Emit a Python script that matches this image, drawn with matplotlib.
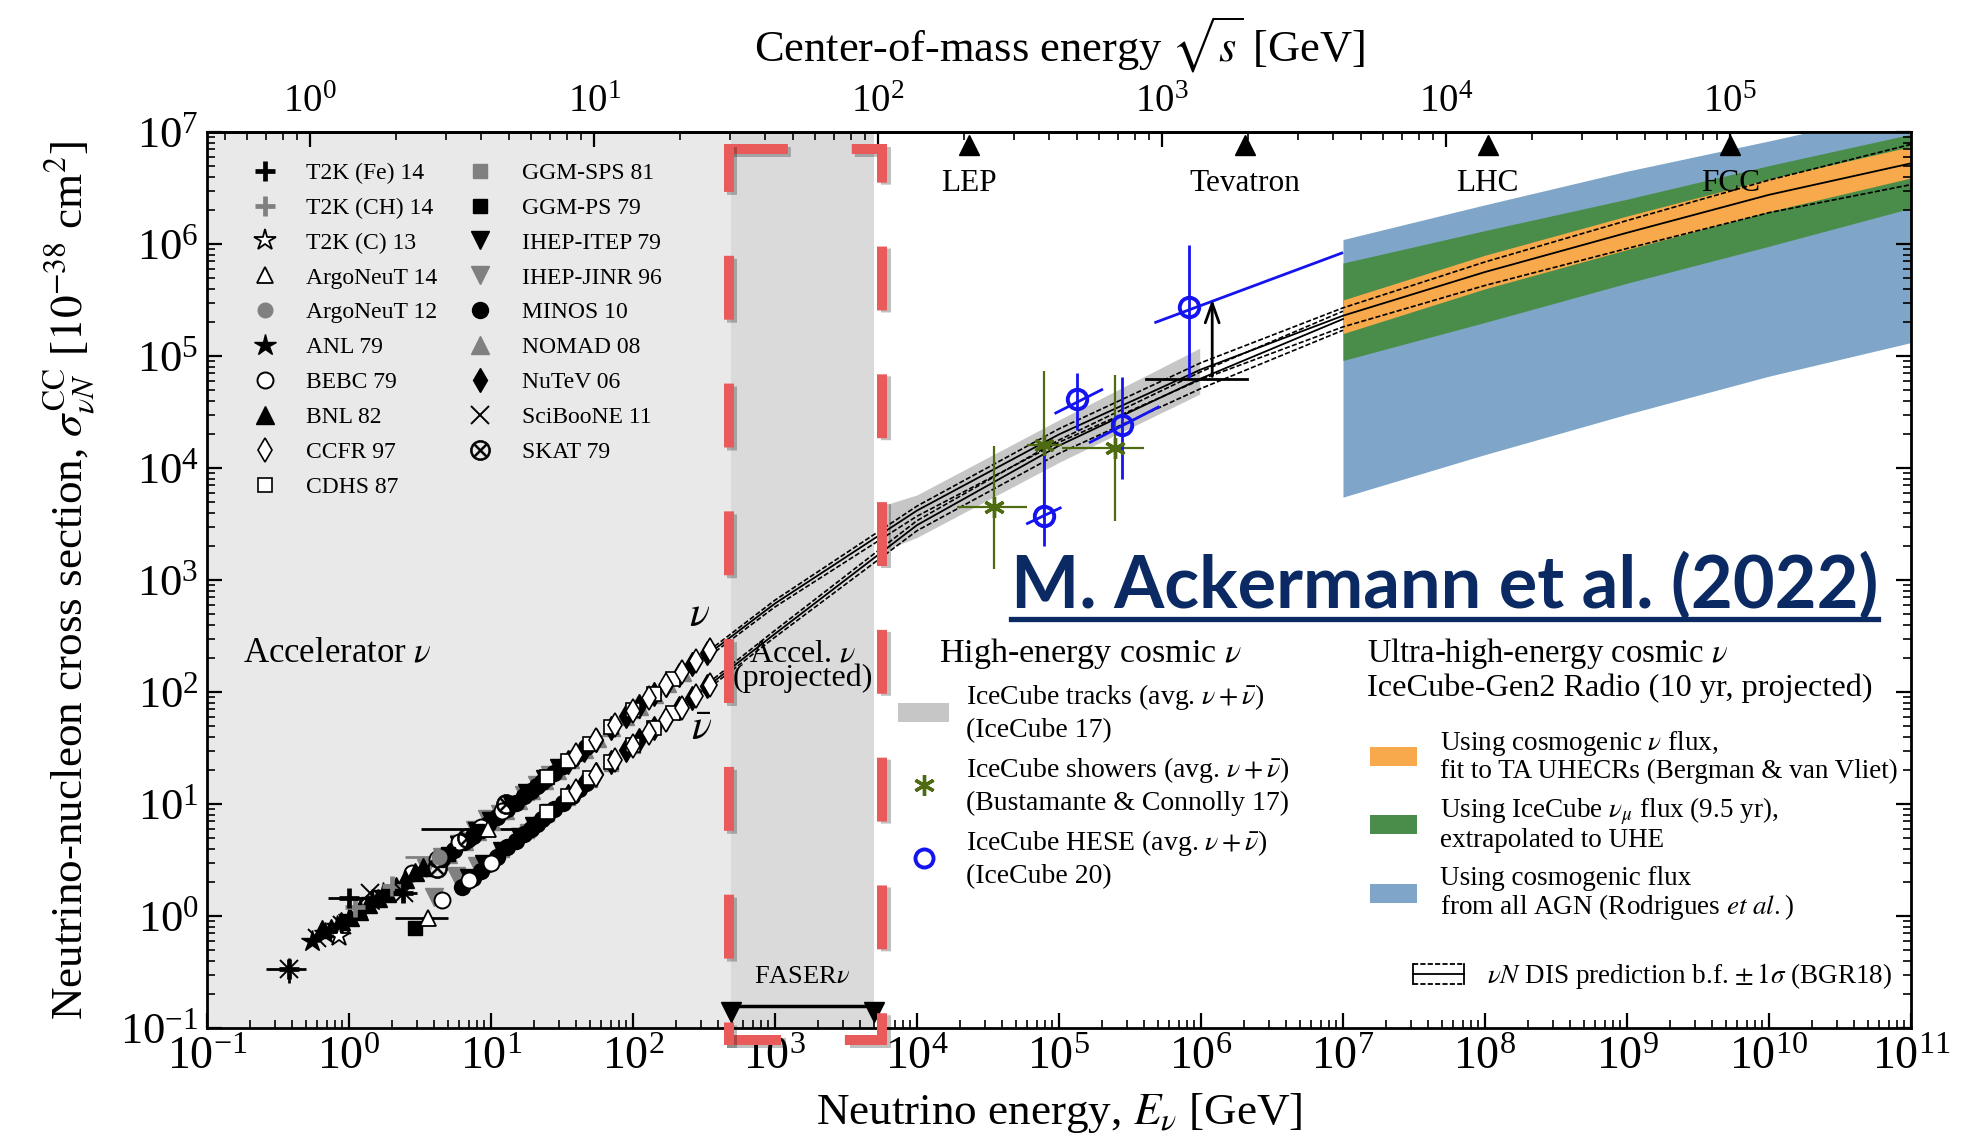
import numpy as np
import matplotlib
matplotlib.use("Agg")
import matplotlib.pyplot as plt
from matplotlib.lines import Line2D
from matplotlib.patches import Patch
from matplotlib.legend_handler import HandlerBase
from matplotlib.ticker import LogLocator, NullFormatter
import matplotlib.patheffects as pe

plt.rcParams.update({
    "font.family": ["Liberation Serif", "DejaVu Serif"],
    "mathtext.fontset": "stix",
    "lines.scale_dashes": False,
    "axes.linewidth": 2.0,
})

M_N = 0.938  # nucleon mass [GeV]

# ---------------- accelerator measurements (E [GeV], sigma [1e-38 cm^2]) -------------
anl79_E = [0.55, 0.68, 0.82, 1.0, 1.2, 1.45, 1.75]
anl79_s = [0.60, 0.70, 0.82, 0.98, 1.15, 1.38, 1.62]

bnl82_E = [0.65, 0.75, 0.88, 1.02, 1.18, 1.37, 1.6, 1.85, 2.15, 2.5, 2.9, 3.3]
bnl82_s = [0.76, 0.78, 0.90, 0.98, 1.10, 1.28, 1.45, 1.62, 1.85, 2.15, 2.45, 2.75]

t2kc13_E = [0.85]
t2kc13_s = [0.66]

t2kfe14_E = [0.38, 1.0, 2.4]
t2kfe14_s = [0.34, 1.44, 1.62]
t2kfe14_Elo = [0.26, 0.71, 1.9]
t2kfe14_Ehi = [0.50, 1.45, 3.0]
t2kfe14_slo = [0.25, 1.25, 1.45]
t2kfe14_shi = [0.42, 1.65, 1.80]

t2kch14_E = [1.1, 2.0]
t2kch14_s = [1.20, 1.85]

sciboone11_E = [0.38, 0.6, 0.9, 1.4, 2.45]
sciboone11_s = [0.34, 0.64, 0.83, 1.60, 1.62]

argoneut14_E = [3.6, 9.6]
argoneut14_s = [0.96, 6.0]
argoneut14_Elo = [2.1, 3.2]
argoneut14_Ehi = [5.0, 15.0]

argoneut12_E = [4.3]
argoneut12_s = [3.4]
argoneut12_Elo = [2.5]
argoneut12_Ehi = [4.6]

bebc79_E = [2.8, 4.2, 6.0, 8.5, 12.0, 4.5, 7.0, 10.0]
bebc79_s = [2.4, 3.2, 4.6, 6.3, 8.6, 1.4, 2.1, 3.0]

skat79_E = [4.2, 6.8, 12.7]
skat79_s = [2.7, 5.0, 10.0]

minos10_E = [4.5, 5.5, 6.5, 7.5, 8.5, 9.5, 11, 13, 15, 17, 19, 21, 23, 25, 28, 32, 37, 42, 47,
             6.3, 7.5, 8.5, 9.5, 11, 13, 15, 17, 19, 21, 23, 25, 28, 32, 37, 42, 47]
minos10_s = [3.2, 3.9, 4.6, 5.2, 5.9, 6.6, 7.6, 9.0, 10.3, 11.7, 13.0, 14.4, 15.8, 17.1, 19.1,
             21.8, 25.2, 28.6, 32.0,
             1.8, 2.2, 2.55, 2.9, 3.4, 4.1, 4.7, 5.4, 6.0, 6.7, 7.3, 8.0, 9.0, 10.3, 11.9, 13.6, 15.4]

ggmps79_E = [2.9, 5.0, 8.0]
ggmps79_s = [0.78, 3.6, 5.7]

ggmsps81_E = [12, 18, 25, 35, 50, 70, 100, 12, 18, 25, 35, 50, 70, 100]
ggmsps81_s = [8.5, 12.6, 17.3, 24.2, 34.5, 48, 68, 3.9, 5.8, 8.1, 11.4, 16.4, 23, 33]

ihepitep79_E = [6, 8, 10, 14, 18, 24, 30, 7, 9, 12, 16, 20, 26]
ihepitep79_s = [4.3, 5.7, 7.1, 9.8, 12.6, 16.8, 21, 2.2, 2.9, 3.8, 5.1, 6.4, 8.4]

ihepjinr96_E = [3.5, 4.5, 6, 7.7, 9.4, 11.5, 14, 17, 21, 26, 4.0, 5.7, 8.0]
ihepjinr96_s = [2.7, 3.4, 4.4, 5.9, 7.4, 8.2, 9.9, 12, 14.8, 18.3, 1.48, 2.3, 2.8]

nomad08_E = [5, 6.5, 8, 10, 12.5, 15.5, 19, 23.5, 29, 36, 45, 56, 70, 88, 110, 140, 175, 220]
nomad08_s = [3.6, 4.7, 5.7, 7.1, 8.8, 10.9, 13.3, 16.4, 20.2, 25, 31.2, 38.7, 48.3, 60.5,
             75.5, 96, 120, 150]

nutev06_E = [35, 45, 55, 70, 90, 110, 140, 170, 210, 260, 330,
             35, 45, 55, 70, 90, 110, 140, 170, 210, 260, 330]
nutev06_s = [23.8, 30.6, 37.4, 47.6, 61.2, 74.8, 95.2, 115.6, 142.8, 176.8, 224.4,
             11.9, 15.3, 18.7, 23.8, 30.6, 37.4, 47.6, 57.8, 71.4, 88.4, 112.2]

ccfr97_E = [40, 55, 75, 100, 130, 170, 220, 280, 350, 40, 55, 75, 100, 130, 170, 220, 280, 350]
ccfr97_s = [27.2, 37.4, 51, 68, 88.4, 115.6, 149.6, 190.4, 238,
            13.2, 18.2, 24.8, 33, 42.9, 56.1, 72.6, 92.4, 115.5]

cdhs87_E = [25, 35, 50, 70, 100, 140, 190, 25, 35, 50, 70, 100, 140, 190]
cdhs87_s = [17.3, 24.2, 34.5, 48.3, 69, 96.6, 131, 8.5, 11.9, 17, 23.8, 34, 47.6, 64.6]

# ---------------- BGR18 DIS prediction -------------
dis_E = [1e2, 1e3, 1e4, 1e5, 1e6, 1e7, 1e8, 1e9, 1e10, 1e11]
nu_bf = [67.6, 617, 4169, 19953, 75858, 229087, 562341, 1.26e6, 2.75e6, 5.25e6]
nu_up = [70.8, 661, 4571, 22387, 87096, 269153, 691831, 1.62e6, 3.72e6, 7.76e6]
nu_lo = [64.6, 575, 3715, 16982, 61660, 181970, 426580, 912011, 1.905e6, 3.39e6]
nubar_E = [1e2, 1e3, 1e4, 1e5, 1e6, 1e7]
nubar_bf = [33.9, 331, 3090, 15849, 63096, 213796]
nubar_up = [35.5, 355, 3388, 17783, 72444, 251189]
nubar_lo = [32.4, 309, 2754, 13490, 51286, 169824]

# ---------------- high-energy cosmic neutrinos -------------
tracks_E = [6.3e3, 1e4, 1e5, 9.8e5]
tracks_lo = [1905, 2399, 11220, 45709]
tracks_hi = [4786, 5754, 26915, 117490]

showers_E = [3.5e4, 7.9e4, 2.5e5]
showers_s = [4.5e3, 1.6e4, 1.5e4]
showers_Elo = [1.9e4, 6.0e4, 1.05e5]
showers_Ehi = [6.0e4, 1.05e5, 4.0e5]
showers_slo = [1.26e3, 3.5e3, 3.4e3]
showers_shi = [1.58e4, 7.4e4, 6.8e4]

hese_E = [7.9e4, 1.35e5, 2.8e5, 8.2e5]
hese_s = [3.7e3, 4.1e4, 2.4e4, 2.75e5]
hese_slo = [2.0e3, 2.2e4, 8.0e3, 6.3e4]
hese_shi = [1.5e4, 7.1e4, 6.5e4, 9.8e5]
hese_Elo = [6.0e4, 9.5e4, 1.66e5, 4.8e5]
hese_Ehi = [1.02e5, 2.0e5, 5.0e5, 9.8e6]
hese_bar_lo = [3.2e3, 3.1e4, 1.7e4, 2.0e5]
hese_bar_hi = [4.4e3, 5.0e4, 3.5e4, 8.3e5]

limit_Elo, limit_Ehi = 4.1e5, 2.1e6
limit_E, limit_s, limit_tip = 1.2e6, 6.2e4, 3.4e5

# ---------------- IceCube-Gen2 Radio projections -------------
uhe_E = [1e7, 1e8, 1e9, 1e10, 1e11]
agn_lo = [5495, 13183, 30200, 66069, 131826]
agn_hi = [1.096e6, 2.239e6, 4.467e6, 8.318e6, 1.585e7]
icnumu_lo = [91201, 199526, 446684, 954993, 2.089e6]
icnumu_hi = [676083, 1.318e6, 2.512e6, 5.012e6, 9.55e6]
ta_lo = [158489, 398107, 891251, 1.95e6, 3.89e6]
ta_hi = [316228, 794328, 1.778e6, 3.802e6, 7.413e6]

# ---------------- colliders and FASERnu -------------
collider_names = ["LEP", "Tevatron", "LHC", "FCC"]
collider_sqrts = [209, 1960, 14000, 100000]
faser_range = [490, 5000]

C_ORANGE = "#f8a94b"
C_GREEN = "#4a8d4a"
C_BLUE = "#7fa6c8"
C_OLIVE = "#4f6b12"
C_HESE = "#1414f0"
C_GRAY = "#808080"


def e_to_sqrts(E):
    return np.sqrt(2.0 * M_N * np.clip(E, 1e-30, None))


def sqrts_to_e(s):
    return np.asarray(s) ** 2 / (2.0 * M_N)


fig = plt.figure(figsize=(19.84, 11.40), dpi=100)
ax = fig.add_axes([0.1043, 0.0982, 0.8589, 0.7860])
ax.set_xscale("log")
ax.set_yscale("log")
ax.set_xlim(1e-1, 1e11)
ax.set_ylim(1e-1, 1e7)

# shaded energy regions
ax.axvspan(1e-1, faser_range[0], color="#e9e9e9", lw=0, zorder=0)
ax.axvspan(faser_range[0], faser_range[1], color="#dadada", lw=0, zorder=0)

# UHE projections
ax.fill_between(uhe_E, agn_lo, agn_hi, color=C_BLUE, lw=0, zorder=1)
ax.fill_between(uhe_E, icnumu_lo, icnumu_hi, color=C_GREEN, lw=0, zorder=1.1)
ax.fill_between(uhe_E, ta_lo, ta_hi, color=C_ORANGE, lw=0, zorder=1.2)

# IceCube tracks
ax.fill_between(tracks_E, tracks_lo, tracks_hi, color="#c6c6c6", lw=0, zorder=1)

# DIS prediction
ax.plot(dis_E, nu_bf, "-", color="k", lw=1.3, zorder=3)
ax.plot(dis_E, nu_up, "--", color="k", lw=1.2, zorder=3)
ax.plot(dis_E, nu_lo, "--", color="k", lw=1.2, zorder=3)
ax.plot(nubar_E, nubar_bf, "-", color="k", lw=1.3, zorder=3)
ax.plot(nubar_E, nubar_up, "--", color="k", lw=1.2, zorder=3)
ax.plot(nubar_E, nubar_lo, "--", color="k", lw=1.2, zorder=3)

# accelerator data
MS = 11.5
styles = {
    "T2K (Fe) 14": dict(marker="+", color="k", mec="k", ms=15, mew=3.4),
    "T2K (CH) 14": dict(marker="+", color=C_GRAY, mec=C_GRAY, ms=15, mew=3.4),
    "T2K (C) 13": dict(marker="*", color="k", mfc="white", mec="k", ms=16, mew=1.3),
    "ArgoNeuT 14": dict(marker="^", color="k", mfc="white", mec="k", ms=MS, mew=1.3),
    "ArgoNeuT 12": dict(marker="o", color=C_GRAY, mfc=C_GRAY, mec=C_GRAY, ms=MS - 1),
    "ANL 79": dict(marker="*", color="k", mfc="k", mec="k", ms=16),
    "BEBC 79": dict(marker="o", color="k", mfc="white", mec="k", ms=MS, mew=1.4),
    "BNL 82": dict(marker="^", color="k", mfc="k", mec="k", ms=MS + 1),
    "CCFR 97": dict(marker="d", color="k", mfc="white", mec="k", ms=MS + 1, mew=1.2),
    "CDHS 87": dict(marker="s", color="k", mfc="white", mec="k", ms=MS - 1, mew=1.2),
    "GGM-SPS 81": dict(marker="s", color=C_GRAY, mfc=C_GRAY, mec=C_GRAY, ms=MS - 1),
    "GGM-PS 79": dict(marker="s", color="k", mfc="k", mec="k", ms=MS - 1),
    "IHEP-ITEP 79": dict(marker="v", color="k", mfc="k", mec="k", ms=MS + 1),
    "IHEP-JINR 96": dict(marker="v", color=C_GRAY, mfc=C_GRAY, mec=C_GRAY, ms=MS + 1),
    "MINOS 10": dict(marker="o", color="k", mfc="k", mec="k", ms=MS),
    "NOMAD 08": dict(marker="^", color=C_GRAY, mfc=C_GRAY, mec=C_GRAY, ms=MS + 1),
    "NuTeV 06": dict(marker="d", color="k", mfc="k", mec="k", ms=MS + 1),
    "SciBooNE 11": dict(marker="x", color="k", mec="k", ms=MS + 1, mew=1.4),
    "SKAT 79": dict(marker="$\\otimes$", color="k", mec="k", mfc="k", ms=MS + 3, mew=0.5),
}
datasets = {
    "T2K (Fe) 14": (t2kfe14_E, t2kfe14_s),
    "T2K (CH) 14": (t2kch14_E, t2kch14_s),
    "T2K (C) 13": (t2kc13_E, t2kc13_s),
    "ArgoNeuT 14": (argoneut14_E, argoneut14_s),
    "ArgoNeuT 12": (argoneut12_E, argoneut12_s),
    "ANL 79": (anl79_E, anl79_s),
    "BEBC 79": (bebc79_E, bebc79_s),
    "BNL 82": (bnl82_E, bnl82_s),
    "CCFR 97": (ccfr97_E, ccfr97_s),
    "CDHS 87": (cdhs87_E, cdhs87_s),
    "GGM-SPS 81": (ggmsps81_E, ggmsps81_s),
    "GGM-PS 79": (ggmps79_E, ggmps79_s),
    "IHEP-ITEP 79": (ihepitep79_E, ihepitep79_s),
    "IHEP-JINR 96": (ihepjinr96_E, ihepjinr96_s),
    "MINOS 10": (minos10_E, minos10_s),
    "NOMAD 08": (nomad08_E, nomad08_s),
    "NuTeV 06": (nutev06_E, nutev06_s),
    "SciBooNE 11": (sciboone11_E, sciboone11_s),
    "SKAT 79": (skat79_E, skat79_s),
}
draw_order = ["GGM-SPS 81", "NOMAD 08", "IHEP-JINR 96", "IHEP-ITEP 79", "MINOS 10", "NuTeV 06",
              "CDHS 87", "CCFR 97", "BEBC 79", "SKAT 79", "GGM-PS 79", "ArgoNeuT 12",
              "ArgoNeuT 14", "BNL 82", "ANL 79", "T2K (C) 13", "T2K (CH) 14", "SciBooNE 11",
              "T2K (Fe) 14"]


def hbar(E, s, Elo, Ehi, color):
    """Horizontal (energy-bin) error bars."""
    E = np.asarray(E)
    s = np.asarray(s)
    ax.errorbar(E, s, xerr=[E - np.asarray(Elo), np.asarray(Ehi) - E], fmt="none",
                ecolor=color, elinewidth=2.0, capsize=0, zorder=4)


hbar(t2kfe14_E, t2kfe14_s, t2kfe14_Elo, t2kfe14_Ehi, "k")
ax.errorbar(t2kfe14_E, t2kfe14_s,
            yerr=[np.asarray(t2kfe14_s) - np.asarray(t2kfe14_slo),
                  np.asarray(t2kfe14_shi) - np.asarray(t2kfe14_s)],
            fmt="none", ecolor="k", elinewidth=2.0, capsize=0, zorder=4)
hbar(argoneut14_E, argoneut14_s, argoneut14_Elo, argoneut14_Ehi, "k")
hbar(argoneut12_E, argoneut12_s, argoneut12_Elo, argoneut12_Ehi, C_GRAY)

for z, name in enumerate(draw_order):
    E, s = datasets[name]
    ax.plot(E, s, ls="none", zorder=5 + 0.01 * z, **styles[name])

# IceCube showers
sE = np.asarray(showers_E)
ss = np.asarray(showers_s)
ax.errorbar(sE, ss,
            xerr=[sE - np.asarray(showers_Elo), np.asarray(showers_Ehi) - sE],
            yerr=[ss - np.asarray(showers_slo), np.asarray(showers_shi) - ss],
            fmt="none", ecolor=C_OLIVE, elinewidth=1.6, capsize=0, zorder=6)
ax.plot(sE, ss, ls="none", marker=(6, 2, 0), ms=15, mew=2.4, color=C_OLIVE, zorder=7)

# IceCube HESE
hE = np.asarray(hese_E)
hs = np.asarray(hese_s)
ax.errorbar(hE, hs, yerr=[hs - np.asarray(hese_slo), np.asarray(hese_shi) - hs],
            fmt="none", ecolor=C_HESE, elinewidth=2.0, capsize=0, zorder=6)
for e0, e1, s0, s1 in zip(hese_Elo, hese_Ehi, hese_bar_lo, hese_bar_hi):
    ax.plot([e0, e1], [s0, s1], color=C_HESE, lw=2.0, zorder=6)
ax.plot(hE, hs, ls="none", marker="o", ms=14, mfc="none", mec=C_HESE, mew=2.8, zorder=7)

# lower limit
ax.plot([limit_Elo, limit_Ehi], [limit_s, limit_s], color="k", lw=2.0, zorder=6)
ax.annotate("", xy=(limit_E, limit_tip), xytext=(limit_E, limit_s),
            arrowprops=dict(arrowstyle="->,head_length=1.4,head_width=0.5", color="k", lw=2.0),
            zorder=6)

# colliders on the top edge
coll_E = sqrts_to_e(collider_sqrts)
xtr = ax.get_xaxis_transform()
ax.plot(coll_E, [0.986] * len(coll_E), ls="none", marker="^", ms=15, color="k",
        transform=xtr, clip_on=False, zorder=8)
for e, name in zip(coll_E, collider_names):
    ax.text(e, 0.942, name, transform=xtr, ha="center", va="center", fontsize=22.5, zorder=8)

# FASERnu bracket
faser_mid = np.sqrt(faser_range[0] * faser_range[1])
ax.plot(faser_range, [0.025, 0.025], color="k", lw=2.5, transform=xtr, zorder=8)
ax.plot(faser_range, [0.018, 0.018], ls="none", marker="v", ms=15, color="k",
        transform=xtr, zorder=8)
ax.text(faser_mid, 0.057, "FASER$\\nu$", transform=xtr, ha="center", va="center", fontsize=19)
ax.text(faser_mid, 0.404, "Accel. $\\nu$\n(projected)", transform=xtr, ha="center",
        va="center", fontsize=23, linespacing=0.8)

ax.text(0.0211, 0.4185, "Accelerator $\\nu$", transform=ax.transAxes, ha="left",
        va="center", fontsize=25)
ax.text(295, 480, "$\\nu$", fontsize=30, ha="center", va="center")
ax.text(306, 46, "$\\bar{\\nu}$", fontsize=30, ha="center", va="center")

ax.text(0.4296, 0.4185, "High-energy cosmic $\\nu$", transform=ax.transAxes, ha="left",
        va="center", fontsize=24.5)
ax.text(0.6808, 0.4185, "Ultra-high-energy cosmic $\\nu$", transform=ax.transAxes, ha="left",
        va="center", fontsize=23.5)
ax.text(0.6808, 0.3795, "IceCube-Gen2 Radio (10 yr, projected)", transform=ax.transAxes,
        ha="left", va="center", fontsize=23.2)

# axes styling
for axis in (ax.xaxis, ax.yaxis):
    axis.set_major_locator(LogLocator(base=10, numticks=30))
    axis.set_minor_locator(LogLocator(base=10, subs=np.arange(2, 10), numticks=300))
    axis.set_minor_formatter(NullFormatter())
ax.tick_params(which="both", direction="in", top=False, right=True)
ax.tick_params(which="major", length=11, width=1.6)
ax.tick_params(which="minor", length=6, width=1.2)
ax.tick_params(axis="x", labelsize=33, pad=6)
ax.tick_params(axis="y", labelsize=32, pad=6)
ax.set_xlabel("Neutrino energy, $E_\\nu$ [GeV]", fontsize=32.5)
ax.xaxis.set_label_coords(0.5, -0.095)
ax.xaxis.label.set_va("center")
ax.set_ylabel("Neutrino-nucleon cross section, $\\sigma_{\\nu N}^{\\rm CC}$ [$10^{-38}$ cm$^2$]",
              fontsize=32.5)
ax.yaxis.set_label_coords(-0.0804, 0.5)
ax.yaxis.label.set_va("center")

sec = ax.secondary_xaxis("top", functions=(e_to_sqrts, sqrts_to_e))
sec.xaxis.set_major_locator(LogLocator(base=10, numticks=30))
sec.xaxis.set_minor_locator(LogLocator(base=10, subs=np.arange(2, 10), numticks=300))
sec.xaxis.set_minor_formatter(NullFormatter())
sec.tick_params(which="both", direction="in")
sec.tick_params(which="major", length=11, width=1.6, labelsize=28, pad=8)
sec.tick_params(which="minor", length=6, width=1.2)
sec.set_xlabel("Center-of-mass energy $\\sqrt{s}$ [GeV]", fontsize=32, labelpad=16)


# ---------------- legends -------------
def proxy(name):
    return Line2D([], [], ls="none", **styles[name])


acc_names = ["T2K (Fe) 14", "T2K (CH) 14", "T2K (C) 13", "ArgoNeuT 14", "ArgoNeuT 12",
             "ANL 79", "BEBC 79", "BNL 82", "CCFR 97", "CDHS 87",
             "GGM-SPS 81", "GGM-PS 79", "IHEP-ITEP 79", "IHEP-JINR 96", "MINOS 10",
             "NOMAD 08", "NuTeV 06", "SciBooNE 11", "SKAT 79"]
leg1 = ax.legend([proxy(n) for n in acc_names], acc_names, ncol=2, loc="upper left",
                 bbox_to_anchor=(0.0256, 0.966), frameon=False, fontsize=17,
                 handlelength=1.2, handletextpad=1.15, columnspacing=1.22, labelspacing=0.565,
                 borderpad=0, borderaxespad=0)
ax.add_artist(leg1)

he_handles = [Patch(facecolor="#c6c6c6", edgecolor="none"),
              Line2D([], [], ls="none", marker=(6, 2, 0), ms=15, mew=2.4, color=C_OLIVE),
              Line2D([], [], ls="none", marker="o", ms=13, mfc="none", mec=C_HESE, mew=2.8)]
he_labels = ["IceCube tracks (avg. $\\nu+\\bar{\\nu}$)\n(IceCube 17)",
             "IceCube showers (avg. $\\nu+\\bar{\\nu}$)\n(Bustamante & Connolly 17)",
             "IceCube HESE (avg. $\\nu+\\bar{\\nu}$)\n(IceCube 20)"]
leg2 = ax.legend(he_handles, he_labels, loc="upper left", bbox_to_anchor=(0.4055, 0.386),
                 frameon=False, fontsize=20, handlelength=1.85, handletextpad=0.6,
                 labelspacing=0.42, borderpad=0, borderaxespad=0)
for t in leg2.get_texts():
    t.set_linespacing(1.32)
ax.add_artist(leg2)

uhe_handles = [Patch(facecolor=C_ORANGE, edgecolor="none"),
               Patch(facecolor=C_GREEN, edgecolor="none"),
               Patch(facecolor=C_BLUE, edgecolor="none")]
uhe_labels = ["Using cosmogenic $\\nu$ flux,\nfit to TA UHECRs (Bergman & van Vliet)",
              "Using IceCube $\\nu_\\mu$ flux (9.5 yr),\nextrapolated to UHE",
              "Using cosmogenic flux\nfrom all AGN (Rodrigues $\\mathit{et\\ al.}$)"]
leg3 = ax.legend(uhe_handles, uhe_labels, loc="upper left", bbox_to_anchor=(0.6825, 0.334),
                 frameon=False, fontsize=19.5, handlelength=1.75, handletextpad=0.85,
                 labelspacing=0.45, borderpad=0, borderaxespad=0)
for t in leg3.get_texts():
    t.set_linespacing(1.05)
ax.add_artist(leg3)


class DISBoxHandler(HandlerBase):
    """Dashed box with a solid centre line: best fit and 1-sigma band."""

    def create_artists(self, legend, orig_handle, xdescent, ydescent, width, height,
                       fontsize, trans):
        x0, x1 = -xdescent, -xdescent + width
        yc = -ydescent + height / 2
        h = height * 1.05
        arts = [
            Line2D([x0, x1], [yc + h / 2] * 2, ls="--", color="k", lw=1.3),
            Line2D([x0, x1], [yc - h / 2] * 2, ls="--", color="k", lw=1.3),
            Line2D([x0, x1], [yc, yc], ls="-", color="k", lw=1.3),
            Line2D([x0, x0], [yc - h / 2, yc + h / 2], ls="-", color="k", lw=1.3),
            Line2D([x1, x1], [yc - h / 2, yc + h / 2], ls="-", color="k", lw=1.3),
        ]
        for a in arts:
            a.set_transform(trans)
        return arts


dis_proxy = Line2D([], [], color="k")
leg4 = ax.legend([dis_proxy], ["$\\nu N$ DIS prediction b.f. $\\pm\\,1\\sigma$ (BGR18)"],
                 handler_map={dis_proxy: DISBoxHandler()}, loc="upper left",
                 bbox_to_anchor=(0.7077, 0.0745), frameon=False, fontsize=19.5,
                 handlelength=1.9, handletextpad=0.85, borderpad=0, borderaxespad=0)

# ---------------- citation banner -------------
cite = fig.text(0.5095, 0.4675, "M. Ackermann et al. (2022)", fontsize=52, fontweight="bold",
                family="Lato", color="#0b2a63", ha="left", va="baseline")
fig.canvas.draw()
bb = cite.get_window_extent()
ul_y = (bb.y0 + 1) / fig.bbox.height
fig.add_artist(Line2D([bb.x0 / fig.bbox.width, bb.x1 / fig.bbox.width], [ul_y, ul_y],
                      color="#0b2a63", lw=3.8, transform=fig.transFigure))

# ---------------- dashed highlight frame round the FASERnu window -------------
L, R, T, B = 0.3674, 0.4446, 0.8693, 0.0877
frame_kw = dict(color="#e95b5b", lw=7.2, dash_capstyle="projecting", dash_joinstyle="miter",
                transform=fig.transFigure, zorder=20,
                path_effects=[pe.SimpleLineShadow(offset=(2.5, -2.5), shadow_color="k",
                                                  alpha=0.25), pe.Normal()])
fig.add_artist(Line2D([L, R, R, L], [T, T, B, B], linestyle=(0, (46 - 7.2, 46 + 7.2)),
                      **frame_kw))
fig.add_artist(Line2D([L, L], [T, B], linestyle=(11.5, (46 - 7.2, 46 + 7.2)), **frame_kw))

fig.savefig("out.png", dpi=100)
